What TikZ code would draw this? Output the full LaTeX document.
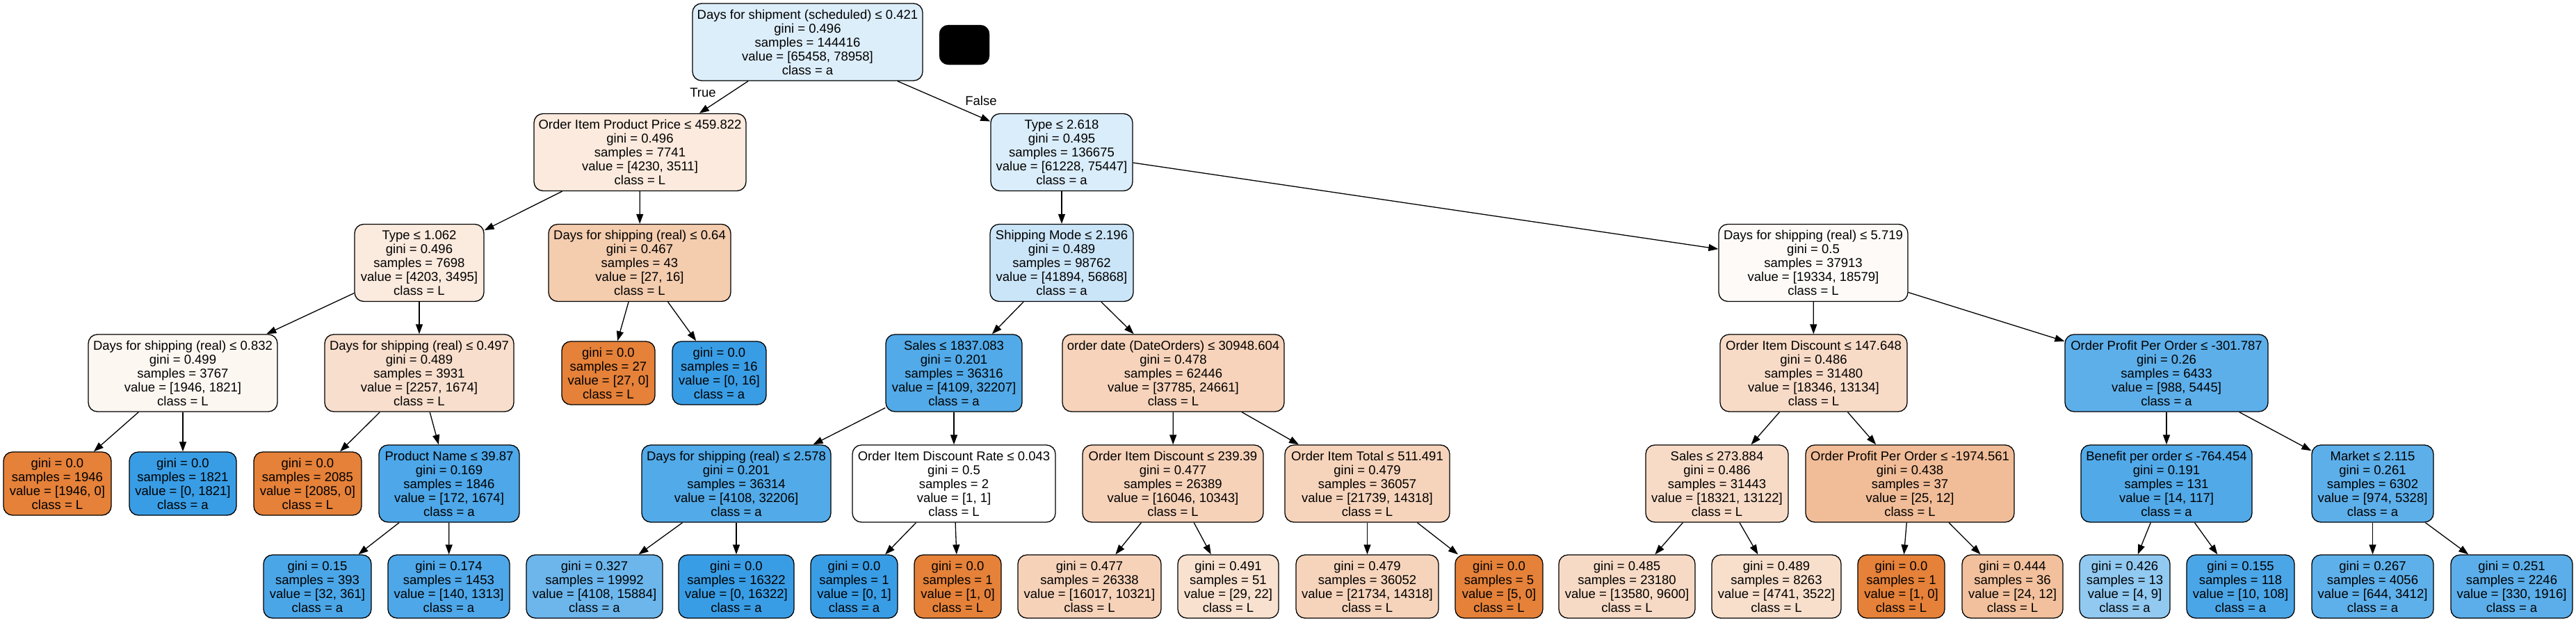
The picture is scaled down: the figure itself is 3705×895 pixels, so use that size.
\documentclass[tikz,border=0pt]{standalone}
\usepackage{fontspec}
\setmainfont{Liberation Sans}
\usetikzlibrary{arrows.meta}
\definecolor{Lc}{RGB}{229,129,57}
\definecolor{Ac}{RGB}{57,157,229}
\tikzset{
  nd/.style={draw=black, rounded corners=13pt, line width=1.3pt, minimum height=111pt,
    align=center, inner sep=0pt, font=\fontsize{18.5}{20}\selectfont},
  lf/.style={nd, minimum height=91pt},
  edge/.style={-{Triangle[length=14pt,width=10pt]}, line width=1.3pt, draw=black},
  elab/.style={font=\fontsize{18.5}{20}\selectfont, inner sep=0pt}
}
\begin{document}
\begin{tikzpicture}[x=1pt,y=-1pt]
\useasboundingbox (0,0) rectangle (3705,895);
% rank 0
\node[nd, fill=Ac!17.1!white, minimum width=331pt] (root) at (1161.5,60.5) {Days for shipment (scheduled) ≤ 0.421\\gini = 0.496\\samples = 144416\\value = [65458, 78958]\\class = a};
\node[draw=black, fill=black, rounded corners=13pt, minimum width=72pt, minimum height=57pt, inner sep=0pt] (blk) at (1387,64.5) {};
% rank 1
\node[nd, fill=Lc!17.0!white, minimum width=305pt] (oipp) at (920.5,219) {Order Item Product Price ≤ 459.822\\gini = 0.496\\samples = 7741\\value = [4230, 3511]\\class = L};
\node[nd, fill=Ac!18.8!white, minimum width=204pt] (t2618) at (1527,219) {Type ≤ 2.618\\gini = 0.495\\samples = 136675\\value = [61228, 75447]\\class = a};
% rank 2
\node[nd, fill=Lc!16.8!white, minimum width=186pt] (t1062) at (603,378) {Type ≤ 1.062\\gini = 0.496\\samples = 7698\\value = [4203, 3495]\\class = L};
\node[nd, fill=Lc!40.7!white, minimum width=262pt] (ds064) at (920,378) {Days for shipping (real) ≤ 0.64\\gini = 0.467\\samples = 43\\value = [27, 16]\\class = L};
\node[nd, fill=Ac!26.3!white, minimum width=206pt] (sm) at (1527,378) {Shipping Mode ≤ 2.196\\gini = 0.489\\samples = 98762\\value = [41894, 56868]\\class = a};
\node[nd, fill=Lc!3.9!white, minimum width=272pt] (ds5719) at (2608,378) {Days for shipping (real) ≤ 5.719\\gini = 0.5\\samples = 37913\\value = [19334, 18579]\\class = L};
% rank 3
\node[nd, fill=Lc!6.4!white, minimum width=272pt] (ds0832) at (263,536.5) {Days for shipping (real) ≤ 0.832\\gini = 0.499\\samples = 3767\\value = [1946, 1821]\\class = L};
\node[nd, fill=Lc!25.8!white, minimum width=272pt] (ds0497) at (603,536.5) {Days for shipping (real) ≤ 0.497\\gini = 0.489\\samples = 3931\\value = [2257, 1674]\\class = L};
\node[lf, fill=Lc, minimum width=134pt] (l27) at (875,536.5) {gini = 0.0\\samples = 27\\value = [27, 0]\\class = L};
\node[lf, fill=Ac, minimum width=135pt] (l16) at (1034.5,536.5) {gini = 0.0\\samples = 16\\value = [0, 16]\\class = a};
\node[nd, fill=Ac!87.2!white, minimum width=196pt] (s1837) at (1372,536.5) {Sales ≤ 1837.083\\gini = 0.201\\samples = 36316\\value = [4109, 32207]\\class = a};
\node[nd, fill=Lc!34.7!white, minimum width=319pt] (od) at (1687.5,536.5) {order date (DateOrders) ≤ 30948.604\\gini = 0.478\\samples = 62446\\value = [37785, 24661]\\class = L};
\node[nd, fill=Lc!28.4!white, minimum width=269pt] (oid147) at (2608.5,536.5) {Order Item Discount ≤ 147.648\\gini = 0.486\\samples = 31480\\value = [18346, 13134]\\class = L};
\node[nd, fill=Ac!81.9!white, minimum width=292pt] (oppo301) at (3116,536.5) {Order Profit Per Order ≤ -301.787\\gini = 0.26\\samples = 6433\\value = [988, 5445]\\class = a};
% rank 4
\node[lf, fill=Lc, minimum width=155pt] (l1946) at (82.5,695.5) {gini = 0.0\\samples = 1946\\value = [1946, 0]\\class = L};
\node[lf, fill=Ac, minimum width=154pt] (l1821) at (263,695.5) {gini = 0.0\\samples = 1821\\value = [0, 1821]\\class = a};
\node[lf, fill=Lc, minimum width=155pt] (l2085) at (442.5,695.5) {gini = 0.0\\samples = 2085\\value = [2085, 0]\\class = L};
\node[nd, fill=Ac!89.7!white, minimum width=202pt] (pn) at (646,695.5) {Product Name ≤ 39.87\\gini = 0.169\\samples = 1846\\value = [172, 1674]\\class = a};
\node[nd, fill=Ac!87.2!white, minimum width=272pt] (ds2578) at (1059,695.5) {Days for shipping (real) ≤ 2.578\\gini = 0.201\\samples = 36314\\value = [4108, 32206]\\class = a};
\node[nd, fill=white, minimum width=292pt] (odr) at (1372,695.5) {Order Item Discount Rate ≤ 0.043\\gini = 0.5\\samples = 2\\value = [1, 1]\\class = L};
\node[nd, fill=Lc!35.5!white, minimum width=260pt] (oid239) at (1687,695.5) {Order Item Discount ≤ 239.39\\gini = 0.477\\samples = 26389\\value = [16046, 10343]\\class = L};
\node[nd, fill=Lc!34.1!white, minimum width=237pt] (oit) at (1966.5,695.5) {Order Item Total ≤ 511.491\\gini = 0.479\\samples = 36057\\value = [21739, 14318]\\class = L};
\node[nd, fill=Lc!28.4!white, minimum width=205pt] (s273) at (2469.5,695.5) {Sales ≤ 273.884\\gini = 0.486\\samples = 31443\\value = [18321, 13122]\\class = L};
\node[nd, fill=Lc!52!white, minimum width=300pt] (oppo1974) at (2747,695.5) {Order Profit Per Order ≤ -1974.561\\gini = 0.438\\samples = 37\\value = [25, 12]\\class = L};
\node[nd, fill=Ac!88.0!white, minimum width=246pt] (ben) at (3116,695.5) {Benefit per order ≤ -764.454\\gini = 0.191\\samples = 131\\value = [14, 117]\\class = a};
\node[nd, fill=Ac!81.7!white, minimum width=175pt] (mkt) at (3412.5,695.5) {Market ≤ 2.115\\gini = 0.261\\samples = 6302\\value = [974, 5328]\\class = a};
% rank 5
\node[lf, fill=Ac!91.1!white, minimum width=155pt] (l015) at (456.5,843.5) {gini = 0.15\\samples = 393\\value = [32, 361]\\class = a};
\node[lf, fill=Ac!89.3!white, minimum width=175pt] (l0174) at (645.5,843.5) {gini = 0.174\\samples = 1453\\value = [140, 1313]\\class = a};
\node[lf, fill=Ac!74.1!white, minimum width=196pt] (l0327) at (855,843.5) {gini = 0.327\\samples = 19992\\value = [4108, 15884]\\class = a};
\node[lf, fill=Ac, minimum width=166pt] (l16322) at (1059,843.5) {gini = 0.0\\samples = 16322\\value = [0, 16322]\\class = a};
\node[lf, fill=Ac, minimum width=125pt] (l01) at (1228.5,843.5) {gini = 0.0\\samples = 1\\value = [0, 1]\\class = a};
\node[lf, fill=Lc, minimum width=125pt] (l10) at (1377.5,843.5) {gini = 0.0\\samples = 1\\value = [1, 0]\\class = L};
\node[lf, fill=Lc!35.6!white, minimum width=206pt] (l0477) at (1567,843.5) {gini = 0.477\\samples = 26338\\value = [16017, 10321]\\class = L};
\node[lf, fill=Lc!24.1!white, minimum width=145pt] (l0491) at (1766.5,843.5) {gini = 0.491\\samples = 51\\value = [29, 22]\\class = L};
\node[lf, fill=Lc!34.1!white, minimum width=205pt] (l0479) at (1966.5,843.5) {gini = 0.479\\samples = 36052\\value = [21734, 14318]\\class = L};
\node[lf, fill=Lc, minimum width=126pt] (l5) at (2156,843.5) {gini = 0.0\\samples = 5\\value = [5, 0]\\class = L};
\node[lf, fill=Lc!29.3!white, minimum width=196pt] (l0485) at (2340,843.5) {gini = 0.485\\samples = 23180\\value = [13580, 9600]\\class = L};
\node[lf, fill=Lc!25.7!white, minimum width=186pt] (l0489) at (2555,843.5) {gini = 0.489\\samples = 8263\\value = [4741, 3522]\\class = L};
\node[lf, fill=Lc, minimum width=125pt] (l1o) at (2734.5,843.5) {gini = 0.0\\samples = 1\\value = [1, 0]\\class = L};
\node[lf, fill=Lc!50!white, minimum width=145pt] (l0444) at (2894.5,843.5) {gini = 0.444\\samples = 36\\value = [24, 12]\\class = L};
\node[lf, fill=Ac!55.6!white, minimum width=130pt] (l0426) at (3056,843.5) {gini = 0.426\\samples = 13\\value = [4, 9]\\class = a};
\node[lf, fill=Ac!90.7!white, minimum width=155pt] (l0155) at (3222.5,843.5) {gini = 0.155\\samples = 118\\value = [10, 108]\\class = a};
\node[lf, fill=Ac!81.1!white, minimum width=175pt] (l0267) at (3412.5,843.5) {gini = 0.267\\samples = 4056\\value = [644, 3412]\\class = a};
\node[lf, fill=Ac!82.8!white, minimum width=175pt] (l0251) at (3612.5,843.5) {gini = 0.251\\samples = 2246\\value = [330, 1916]\\class = a};
% edges
\draw[edge] (root) -- (oipp);
\draw[edge] (root) -- (t2618);
\node[elab] (tlab) at (1011,133) {True};
\node[elab] (flab) at (1411,145) {False};
\draw[edge] (oipp) -- (t1062);
\draw[edge] (oipp) -- (ds064);
\draw[edge] (t2618) -- (sm);
\draw[edge] (t2618) -- (ds5719);
\draw[edge] (t1062) -- (ds0832);
\draw[edge] (t1062) -- (ds0497);
\draw[edge] (ds064) -- (l27);
\draw[edge] (ds064) -- (l16);
\draw[edge] (sm) -- (s1837);
\draw[edge] (sm) -- (od);
\draw[edge] (ds5719) -- (oid147);
\draw[edge] (ds5719) -- (oppo301);
\draw[edge] (ds0832) -- (l1946);
\draw[edge] (ds0832) -- (l1821);
\draw[edge] (ds0497) -- (l2085);
\draw[edge] (ds0497) -- (pn);
\draw[edge] (s1837) -- (ds2578);
\draw[edge] (s1837) -- (odr);
\draw[edge] (od) -- (oid239);
\draw[edge] (od) -- (oit);
\draw[edge] (oid147) -- (s273);
\draw[edge] (oid147) -- (oppo1974);
\draw[edge] (oppo301) -- (ben);
\draw[edge] (oppo301) -- (mkt);
\draw[edge] (pn) -- (l015);
\draw[edge] (pn) -- (l0174);
\draw[edge] (ds2578) -- (l0327);
\draw[edge] (ds2578) -- (l16322);
\draw[edge] (odr) -- (l01);
\draw[edge] (odr) -- (l10);
\draw[edge] (oid239) -- (l0477);
\draw[edge] (oid239) -- (l0491);
\draw[edge] (oit) -- (l0479);
\draw[edge] (oit) -- (l5);
\draw[edge] (s273) -- (l0485);
\draw[edge] (s273) -- (l0489);
\draw[edge] (oppo1974) -- (l1o);
\draw[edge] (oppo1974) -- (l0444);
\draw[edge] (ben) -- (l0426);
\draw[edge] (ben) -- (l0155);
\draw[edge] (mkt) -- (l0267);
\draw[edge] (mkt) -- (l0251);
\end{tikzpicture}
\end{document}
